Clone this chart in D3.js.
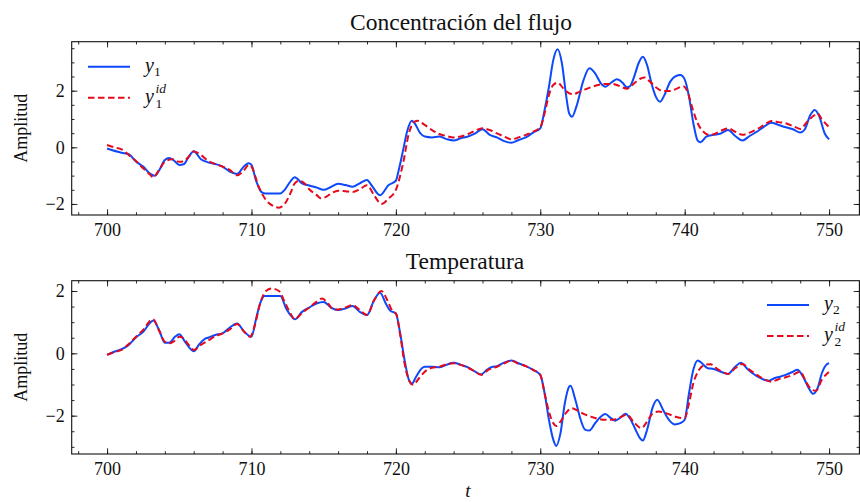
<!DOCTYPE html>
<html>
<head>
<meta charset="utf-8">
<script src="https://cdn.jsdelivr.net/npm/d3@7"></script>
<style>
  body { margin: 0; background: #fff; }
  text { font-family: 'Liberation Serif', 'DejaVu Serif', serif; fill: #111; }
</style>
</head>
<body>
<div id="chart"></div>
<script>
// Concentración del flujo / Temperatura: measured vs identified output

// Top panel: y1 (blue) and y1^id (red dashed)
const t1 = [700, 701, 701.5, 702, 702.5, 703, 703.3, 703.6, 704, 704.3, 704.6, 705, 705.3, 705.6, 706, 706.5, 707, 707.5, 708, 708.5, 709, 709.5, 709.8, 710, 710.3, 710.7, 711, 712, 712.3, 712.7, 713, 713.5, 714, 714.5, 715, 715.5, 716, 716.5, 717, 717.5, 718, 718.3, 718.9, 719.5, 720, 720.2, 720.5, 720.8, 721.1, 721.3, 721.7, 722, 722.5, 723, 723.5, 724, 724.5, 725, 725.5, 726, 726.5, 727, 727.5, 728, 728.5, 729, 729.5, 730, 730.3, 730.6, 730.9, 731.2, 731.5, 731.8, 732, 732.2, 732.5, 733, 733.4, 733.8, 734.2, 734.5, 735, 735.3, 735.7, 736, 736.2, 736.5, 736.8, 737.1, 737.4, 737.7, 738, 738.3, 738.6, 739, 739.4, 739.7, 740, 740.3, 740.6, 740.9, 741.1, 741.5, 742, 742.5, 743, 743.5, 744, 744.5, 745, 745.5, 746, 746.5, 747, 747.5, 748, 748.3, 748.7, 749, 749.3, 749.7, 750]
const y1 = [-0.04, -0.19, -0.24, -0.5, -0.68, -0.94, -1.0, -0.82, -0.45, -0.38, -0.45, -0.62, -0.6, -0.38, -0.14, -0.42, -0.53, -0.59, -0.68, -0.86, -0.94, -0.66, -0.56, -0.62, -1.15, -1.58, -1.63, -1.63, -1.5, -1.2, -1.06, -1.27, -1.35, -1.42, -1.5, -1.4, -1.29, -1.33, -1.39, -1.27, -1.15, -1.33, -1.69, -1.33, -1.18, -0.8, -0.1, 0.6, 0.94, 0.85, 0.49, 0.38, 0.35, 0.38, 0.29, 0.24, 0.32, 0.38, 0.49, 0.64, 0.44, 0.35, 0.22, 0.16, 0.26, 0.35, 0.52, 0.67, 1.32, 2.14, 3.08, 3.46, 2.96, 1.79, 1.2, 1.08, 1.44, 2.38, 2.79, 2.61, 2.26, 2.14, 2.32, 2.4, 2.28, 2.12, 2.15, 2.49, 2.96, 3.2, 2.9, 2.26, 1.79, 1.61, 1.85, 2.32, 2.52, 2.55, 2.4, 1.79, 0.85, 0.24, 0.18, 0.38, 0.44, 0.49, 0.61, 0.4, 0.24, 0.4, 0.55, 0.73, 0.87, 0.79, 0.71, 0.64, 0.52, 0.62, 1.14, 1.32, 1.12, 0.49, 0.28]

const t1id = [700, 700.5, 701, 701.5, 702, 702.5, 703, 703.2, 703.6, 704, 704.5, 705, 705.3, 705.6, 706, 706.5, 707, 707.5, 708, 708.5, 709, 709.5, 709.8, 710, 710.5, 711, 711.5, 711.9, 712.3, 712.7, 713, 713.3, 713.7, 714, 714.5, 714.8, 715.2, 715.6, 716, 716.5, 717, 717.5, 718, 718.5, 719, 719.5, 720, 720.5, 720.9, 721.3, 721.5, 722, 722.5, 723, 723.5, 724, 724.5, 725, 725.5, 726, 726.5, 727, 727.5, 728, 728.5, 729, 729.5, 730, 730.3, 730.6, 730.9, 731.2, 731.6, 732, 732.3, 732.7, 733, 733.5, 734, 734.5, 735, 735.5, 736, 736.5, 737, 737.2, 737.6, 738, 738.5, 739, 739.5, 739.9, 740.2, 740.5, 740.9, 741.3, 741.7, 742, 742.5, 743, 743.5, 744, 744.5, 745, 745.5, 746, 746.5, 747, 747.5, 748, 748.5, 749, 749.2, 749.5, 750]
const y1id = [0.08, 0.0, -0.07, -0.27, -0.48, -0.74, -0.98, -1.06, -0.8, -0.51, -0.42, -0.51, -0.5, -0.36, -0.15, -0.27, -0.48, -0.59, -0.68, -0.8, -0.99, -0.8, -0.62, -0.68, -1.39, -1.86, -2.07, -2.13, -2.0, -1.62, -1.27, -1.18, -1.29, -1.48, -1.68, -1.8, -1.74, -1.6, -1.53, -1.55, -1.58, -1.48, -1.34, -1.7, -2.0, -1.8, -1.5, -0.56, 0.49, 0.91, 0.94, 0.79, 0.61, 0.47, 0.4, 0.35, 0.38, 0.47, 0.59, 0.67, 0.61, 0.49, 0.38, 0.28, 0.35, 0.44, 0.55, 0.71, 1.2, 1.85, 2.2, 2.28, 2.08, 1.91, 1.88, 1.96, 2.02, 2.12, 2.2, 2.24, 2.24, 2.16, 2.07, 2.26, 2.44, 2.47, 2.32, 2.12, 1.99, 1.99, 2.08, 2.16, 1.96, 1.44, 0.85, 0.55, 0.44, 0.46, 0.58, 0.67, 0.55, 0.44, 0.52, 0.64, 0.79, 0.93, 0.89, 0.85, 0.75, 0.65, 0.91, 1.14, 1.2, 0.99, 0.71]

// Bottom panel: y2 (blue) and y2^id (red dashed)
const t2 = [700, 700.5, 701, 701.5, 702, 702.5, 703, 703.2, 703.6, 704, 704.3, 704.7, 705, 705.4, 705.8, 706, 706.4, 706.8, 707, 707.5, 708, 708.5, 709, 709.5, 710, 710.3, 710.6, 710.9, 712, 712.4, 712.8, 713, 713.5, 714, 714.5, 715, 715.5, 716, 716.5, 717, 717.5, 718, 718.5, 718.9, 719.3, 719.6, 720, 720.3, 720.6, 720.9, 721.1, 721.4, 721.8, 722, 722.5, 723, 723.5, 724, 724.5, 725, 725.5, 725.9, 726.3, 726.7, 727, 727.5, 728, 728.5, 729, 729.5, 730, 730.3, 730.6, 730.9, 731.1, 731.4, 731.7, 732, 732.1, 732.4, 732.8, 733.1, 733.4, 733.8, 734.2, 734.5, 734.9, 735.2, 735.5, 735.9, 736.2, 736.6, 736.9, 737.1, 737.4, 737.8, 738.1, 738.5, 738.9, 739.3, 739.7, 740, 740.3, 740.6, 740.9, 741.2, 741.6, 742, 742.5, 743, 743.5, 743.9, 744.3, 744.7, 745, 745.5, 745.8, 746.2, 746.6, 747, 747.5, 747.8, 748.2, 748.6, 748.9, 749.2, 749.5, 749.8, 750]
const y2 = [-0.05, 0.05, 0.13, 0.27, 0.51, 0.69, 0.99, 1.05, 0.75, 0.34, 0.34, 0.53, 0.61, 0.37, 0.13, 0.07, 0.3, 0.47, 0.5, 0.59, 0.64, 0.83, 0.96, 0.69, 0.53, 1.07, 1.6, 1.84, 1.84, 1.44, 1.17, 1.09, 1.33, 1.47, 1.6, 1.65, 1.47, 1.39, 1.44, 1.52, 1.33, 1.23, 1.71, 1.94, 1.6, 1.37, 1.28, 0.64, -0.21, -0.85, -0.98, -0.75, -0.48, -0.43, -0.43, -0.45, -0.37, -0.3, -0.37, -0.45, -0.59, -0.68, -0.53, -0.43, -0.41, -0.3, -0.23, -0.32, -0.41, -0.53, -0.69, -1.28, -2.13, -2.77, -2.97, -2.56, -1.6, -1.07, -1.04, -1.44, -2.13, -2.45, -2.48, -2.24, -2.03, -1.95, -2.08, -2.16, -2.08, -1.94, -2.08, -2.45, -2.72, -2.8, -2.45, -1.71, -1.49, -1.81, -2.13, -2.28, -2.24, -2.13, -1.28, -0.53, -0.23, -0.32, -0.48, -0.5, -0.59, -0.66, -0.43, -0.3, -0.48, -0.64, -0.73, -0.85, -0.88, -0.8, -0.75, -0.69, -0.59, -0.53, -0.75, -1.12, -1.3, -1.12, -0.64, -0.37, -0.32]

const t2id = [700, 700.5, 701, 701.5, 702, 702.5, 703, 703.2, 703.6, 704, 704.3, 704.7, 705, 705.3, 705.6, 706, 706.5, 707, 707.5, 708, 708.5, 709, 709.5, 709.9, 710.2, 710.6, 711, 711.4, 711.9, 712.3, 712.7, 713, 713.5, 714, 714.5, 714.9, 715.3, 715.7, 716, 716.5, 717, 717.5, 718, 718.5, 719, 719.4, 719.8, 720, 720.3, 720.6, 720.9, 721.2, 721.6, 722, 722.5, 723, 723.5, 724, 724.5, 725, 725.5, 725.9, 726.4, 727, 727.5, 728, 728.5, 729, 729.5, 730, 730.3, 730.6, 730.9, 731.1, 731.4, 731.8, 732.2, 732.6, 733, 733.5, 734, 734.5, 735, 735.5, 736, 736.5, 737, 737.4, 737.8, 738.2, 738.6, 739, 739.5, 740, 740.3, 740.6, 741, 741.4, 741.8, 742.2, 742.7, 743, 743.5, 744, 744.5, 745, 745.5, 746, 746.5, 747, 747.5, 748, 748.4, 748.8, 749.1, 749.5, 750]
const y2id = [-0.05, 0.04, 0.11, 0.3, 0.53, 0.75, 1.05, 1.09, 0.73, 0.37, 0.32, 0.41, 0.53, 0.48, 0.3, 0.11, 0.27, 0.41, 0.55, 0.64, 0.77, 0.94, 0.69, 0.53, 0.85, 1.6, 2.0, 2.08, 2.0, 1.65, 1.28, 1.09, 1.3, 1.47, 1.65, 1.76, 1.6, 1.41, 1.41, 1.47, 1.55, 1.39, 1.23, 1.71, 2.0, 1.71, 1.33, 1.28, 0.59, -0.32, -0.85, -1.01, -0.8, -0.59, -0.46, -0.43, -0.35, -0.32, -0.37, -0.46, -0.59, -0.69, -0.53, -0.43, -0.32, -0.23, -0.34, -0.41, -0.53, -0.69, -1.28, -1.87, -2.24, -2.33, -2.19, -1.9, -1.76, -1.84, -1.94, -2.03, -2.1, -2.13, -2.13, -2.06, -1.97, -2.22, -2.4, -2.19, -1.92, -1.87, -1.9, -1.97, -2.05, -2.08, -1.6, -0.96, -0.53, -0.37, -0.35, -0.48, -0.62, -0.66, -0.48, -0.34, -0.53, -0.69, -0.83, -0.91, -0.83, -0.77, -0.69, -0.59, -0.91, -1.17, -1.2, -0.85, -0.59]

const xTicks = [700, 710, 720, 730, 740, 750]
const yTicks = [-2, 0, 2]

const width = 860
const height = 502
const blue = '#0d49fb'
const red = '#e6091c'

const svg = d3.select('#chart')
  .append('svg')
  .attr('width', width)
  .attr('height', height)

const x = d3.scaleLinear().domain([697.55, 752.1]).range([71.7, 859.4])

const fmt = d => d < 0 ? '\u2212' + Math.abs(d) : String(d)

function drawPanel(p) {
  const y = d3.scaleLinear().domain(p.yDomain).range([p.bottom, p.top])
  const g = svg.append('g')

  // minor + major ticks, pointing inward on all four sides
  const yMinor = d3.range(Math.ceil(p.yDomain[0] * 2) / 2, p.yDomain[1], 0.5)
  const xMinor = d3.range(698, 752, 2)

  g.append('g').attr('transform', `translate(0,${p.bottom})`)
    .call(d3.axisBottom(x).tickValues(xMinor).tickSize(-2.8).tickFormat(''))
  g.append('g').attr('transform', `translate(0,${p.top})`)
    .call(d3.axisTop(x).tickValues(xMinor).tickSize(-2.8).tickFormat(''))
  g.append('g').attr('transform', `translate(${x.range()[0]},0)`)
    .call(d3.axisLeft(y).tickValues(yMinor).tickSize(-2.8).tickFormat(''))
  g.append('g').attr('transform', `translate(${x.range()[1]},0)`)
    .call(d3.axisRight(y).tickValues(yMinor).tickSize(-2.8).tickFormat(''))

  g.append('g').attr('class', 'xaxis').attr('transform', `translate(0,${p.bottom})`)
    .call(d3.axisBottom(x).tickValues(xTicks).tickSize(-5.7).tickPadding(8).tickFormat(fmt))
  g.append('g').attr('transform', `translate(0,${p.top})`)
    .call(d3.axisTop(x).tickValues(xTicks).tickSize(-5.7).tickFormat(''))
  g.append('g').attr('class', 'yaxis').attr('transform', `translate(${x.range()[0]},0)`)
    .call(d3.axisLeft(y).tickValues(yTicks).tickSize(-5.7).tickPadding(7).tickFormat(fmt))
  g.append('g').attr('transform', `translate(${x.range()[1]},0)`)
    .call(d3.axisRight(y).tickValues(yTicks).tickSize(-5.7).tickFormat(''))

  g.selectAll('.domain').remove()
  g.selectAll('.tick line').attr('stroke', '#111').attr('stroke-width', 0.9)
  g.selectAll('.tick text')
    .style('font-family', "'Liberation Serif', serif")
    .style('font-size', '18px')
    .attr('fill', '#111')

  // frame
  g.append('rect')
    .attr('x', x.range()[0])
    .attr('y', p.top)
    .attr('width', x.range()[1] - x.range()[0])
    .attr('height', p.bottom - p.top)
    .attr('fill', 'none')
    .attr('stroke', '#111')
    .attr('stroke-width', 1.1)

  const line = d3.line()
    .x(d => x(d[0]))
    .y(d => y(d[1]))
    .curve(d3.curveMonotoneX)

  g.append('path')
    .datum(d3.zip(p.t, p.v))
    .attr('d', line)
    .attr('fill', 'none')
    .attr('stroke', blue)
    .attr('stroke-width', 2)

  g.append('path')
    .datum(d3.zip(p.tid, p.vid))
    .attr('d', line)
    .attr('fill', 'none')
    .attr('stroke', red)
    .attr('stroke-width', 2)
    .attr('stroke-dasharray', '6.5,3.5')

  // title
  svg.append('text')
    .text(p.title)
    .attr('x', p.titleX)
    .attr('y', p.top - 12)
    .attr('text-anchor', 'middle')
    .style('font-size', '23.5px')

  // y label
  svg.append('text')
    .text('Amplitud')
    .attr('transform', `translate(27,${(p.top + p.bottom) / 2}) rotate(-90)`)
    .attr('text-anchor', 'middle')
    .style('font-size', '18px')

  // legend
  const lg = svg.append('g')
  lg.append('line')
    .attr('x1', p.legX).attr('x2', p.legX + 42)
    .attr('y1', p.legY).attr('y2', p.legY)
    .attr('stroke', blue).attr('stroke-width', 2)
  lg.append('line')
    .attr('x1', p.legX).attr('x2', p.legX + 42)
    .attr('y1', p.legY + 31).attr('y2', p.legY + 31)
    .attr('stroke', red).attr('stroke-width', 2)
    .attr('stroke-dasharray', '6.5,3.5')

  const tx = p.legX + 57
  const l1 = lg.append('text').attr('x', tx).attr('y', p.legY + 5).style('font-size', '20px')
  l1.append('tspan').text('y').style('font-style', 'italic')
  l1.append('tspan').text(p.idx).attr('dy', 4).style('font-size', '13.5px')

  const l2 = lg.append('text').attr('x', tx).attr('y', p.legY + 36).style('font-size', '20px')
  l2.append('tspan').text('y').style('font-style', 'italic')
  l2.append('tspan').text('id').attr('x', tx + 10.5).attr('dy', -10).style('font-size', '13.5px').style('font-style', 'italic')
  l2.append('tspan').text(p.idx).attr('x', tx + 10.5).attr('dy', 15).style('font-size', '13.5px')
}

drawPanel({
  top: 41.7, bottom: 215, yDomain: [-2.39, 3.73],
  t: t1, v: y1, tid: t1id, vid: y1id,
  title: 'Concentración del flujo', titleX: 461,
  legX: 88, legY: 66.7, idx: '1'
})

drawPanel({
  top: 280.7, bottom: 454, yDomain: [-3.23, 2.33],
  t: t2, v: y2, tid: t2id, vid: y2id,
  title: 'Temperatura', titleX: 465,
  legX: 767, legY: 305, idx: '2'
})

// x label
svg.append('text')
  .text('t')
  .attr('x', 468)
  .attr('y', 497)
  .attr('text-anchor', 'middle')
  .style('font-size', '19px')
  .style('font-style', 'italic')
</script>
</body>
</html>
